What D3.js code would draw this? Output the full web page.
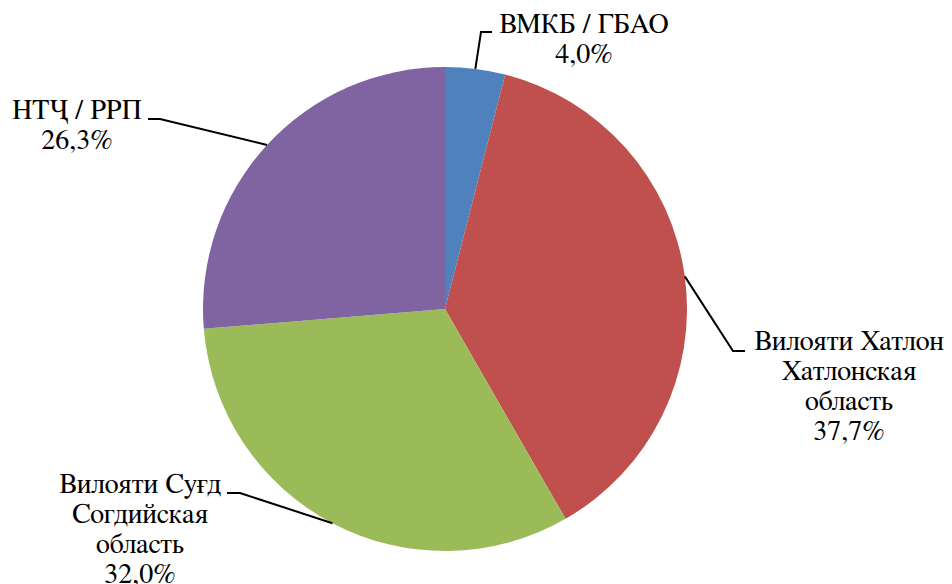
<!DOCTYPE html>
<html>
<head>
<meta charset="utf-8">
<script src="https://cdn.jsdelivr.net/npm/d3@7"></script>
<style>
html,body{margin:0;padding:0;background:#fff;}
svg{display:block;}
</style>
</head>
<body>
<svg id="chart" width="952" height="584"></svg>
<script>
// Data
const categories = ["ВМКБ / ГБАО", "Вилояти Хатлон\nХатлонская\nобласть", "Вилояти Суғд\nСогдийская\nобласть", "НТҶ / РРП"];
const values = [4.0, 37.7, 32.0, 26.3];
const valueLabels = ["4,0%", "37,7%", "32,0%", "26,3%"];
const colors = ["#4F81BD", "#C0504D", "#9BBB59", "#8064A2"];

const W = 952, H = 584;
const cx = 445, cy = 309, R = 242;
const fontSize = 28, lineH = 30;
const fontFam = "FreeSerif, 'Noto Serif CJK SC', 'Liberation Serif', serif";

// label layout: text centre x, first baseline y, elbow point, end of horizontal segment
const layout = [
  {tx: 584, ty: 33,  elbow: [481, 32],  end: [492, 32]},
  {tx: 849, ty: 350, elbow: [733, 351], end: [745, 351]},
  {tx: 140, ty: 493, elbow: [240, 493], end: [227, 493]},
  {tx: 77,  ty: 119, elbow: [160, 119], end: [148, 119]}
];

const svg = d3.select("#chart");
const g = svg.append("g").attr("transform", `translate(${cx},${cy})`);

const pie = d3.pie().sort(null).value(d => d).startAngle(0).endAngle(2 * Math.PI);
const arcs = pie(values);
const arc = d3.arc().innerRadius(0).outerRadius(R);

g.selectAll("path.slice")
  .data(arcs)
  .join("path")
  .attr("class", "slice")
  .attr("d", arc)
  .attr("fill", (d, i) => colors[i]);

// leader lines
const outer = d3.arc().innerRadius(R).outerRadius(R);
arcs.forEach((d, i) => {
  const p = outer.centroid(d);
  const L = layout[i];
  const pts = [[p[0] + cx, p[1] + cy], L.elbow, L.end];
  svg.append("path")
    .attr("d", d3.line()(pts))
    .attr("fill", "none")
    .attr("stroke", "#000")
    .attr("stroke-width", 2);
});

// labels
arcs.forEach((d, i) => {
  const L = layout[i];
  const lines = categories[i].split("\n").concat([valueLabels[i]]);
  const t = svg.append("text")
    .attr("text-anchor", "middle")
    .style("font-family", fontFam)
    .attr("font-size", fontSize)
    .attr("fill", "#000");
  lines.forEach((s, k) => {
    t.append("tspan").attr("x", L.tx).attr("y", L.ty + k * lineH).text(s);
  });
});
</script>
</body>
</html>
